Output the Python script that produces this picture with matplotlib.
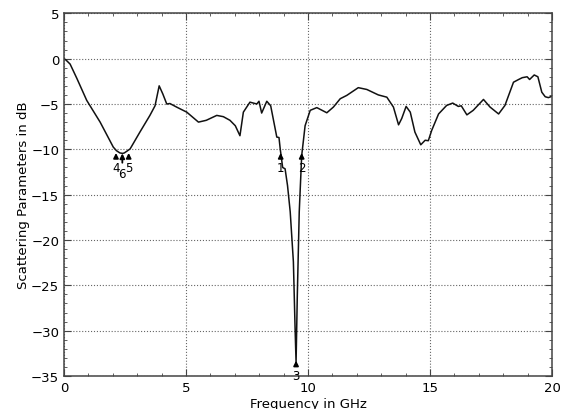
import matplotlib
matplotlib.use("Agg")
import matplotlib.pyplot as plt
from matplotlib.ticker import MultipleLocator

# S-parameter trace
freq_ghz = [0.0, 0.08, 0.25, 0.53, 0.93, 1.48, 2.02, 2.15, 2.29, 2.4, 2.47, 2.58,
            2.71, 3.11, 3.52, 3.73, 3.90, 4.05, 4.21, 4.34, 4.62, 5.03, 5.51,
            5.83, 6.26, 6.53, 6.80, 7.02, 7.21, 7.35, 7.62, 7.90, 7.99, 8.10,
            8.31, 8.47, 8.72, 8.81, 8.86, 8.96, 9.06, 9.16, 9.27, 9.40, 9.47,
            9.51, 9.56, 9.64, 9.74, 9.88, 10.09, 10.36, 10.77, 11.04, 11.32,
            11.59, 12.06, 12.41, 12.88, 13.23, 13.50, 13.71, 13.84, 14.02,
            14.19, 14.38, 14.62, 14.80, 14.93, 15.07, 15.35, 15.68, 15.93,
            16.16, 16.28, 16.51, 16.77, 17.19, 17.46, 17.81, 18.07, 18.42,
            18.63, 18.78, 18.98, 19.08, 19.27, 19.42, 19.58, 19.72, 19.85, 20.0]
s_db = [0.0, -0.15, -0.6, -2.2, -4.6, -7.0, -9.76, -10.15, -10.4, -10.45, -10.4, -10.2,
        -9.95, -8.1, -6.26, -5.2, -3.0, -3.9, -5.0, -4.95, -5.35, -5.9, -7.0,
        -6.8, -6.26, -6.4, -6.8, -7.4, -8.5, -5.9, -4.8, -5.0, -4.7, -6.0,
        -4.7, -5.2, -8.65, -8.7, -9.95, -12.0, -12.15, -14.0, -16.9, -22.4, -29.8,
        -33.5, -26.2, -16.9, -10.7, -7.4, -5.7, -5.4, -5.97, -5.34, -4.42,
        -4.05, -3.2, -3.4, -4.0, -4.25, -5.34, -7.3, -6.6, -5.27,
        -5.9, -8.1, -9.5, -9.0, -9.05, -7.9, -6.1, -5.16, -4.9,
        -5.27, -5.2, -6.2, -5.7, -4.5, -5.34, -6.1, -5.16, -2.6,
        -2.3, -2.1, -2.0, -2.3, -1.8, -2.0, -3.7, -4.2, -4.3, -4.15]

# markers
marker_names = ["1", "2", "3", "4", "5", "6"]
marker_freq = [8.88, 9.74, 9.51, 2.13, 2.65, 2.39]
marker_db = [-10.4, -10.4, -33.3, -10.4, -10.4, -10.45]

fig = plt.figure(figsize=(5.68, 4.10), dpi=100)
ax = fig.add_axes([0.1127, 0.0805, 0.8592, 0.8846])

ax.plot(freq_ghz, s_db, color="#111111", lw=1.1)

for name, f, v in zip(marker_names, marker_freq, marker_db):
    off = -20 if name == "6" else -15
    ax.annotate(name, xy=(f, v), xytext=(0, off), textcoords="offset pixels",
                ha="center", va="center", fontsize=8.5,
                arrowprops=dict(arrowstyle="-|>", color="black", lw=1.3,
                                mutation_scale=7, shrinkA=1, shrinkB=0))

ax.set_xlim(0, 20)
ax.set_ylim(-35, 5)
ax.xaxis.set_major_locator(MultipleLocator(5))
ax.xaxis.set_minor_locator(MultipleLocator(1))
ax.yaxis.set_major_locator(MultipleLocator(5))
ax.yaxis.set_minor_locator(MultipleLocator(1))
ax.tick_params(which="both", direction="in", top=True, right=True,
               labelsize=9.5, color="#444444")
ax.tick_params(which="major", length=5)
ax.tick_params(which="minor", length=2.5)
ax.grid(True, which="major", linestyle=":", color="#666666", lw=0.8)
for s in ax.spines.values():
    s.set_color("#444444")
    s.set_linewidth(1.1)

ax.set_xlabel("Frequency in GHz", fontsize=9.5, labelpad=2)
ax.set_ylabel("Scattering Parameters in dB", fontsize=9.5, labelpad=1)

fig.savefig("out.png", dpi=100)
